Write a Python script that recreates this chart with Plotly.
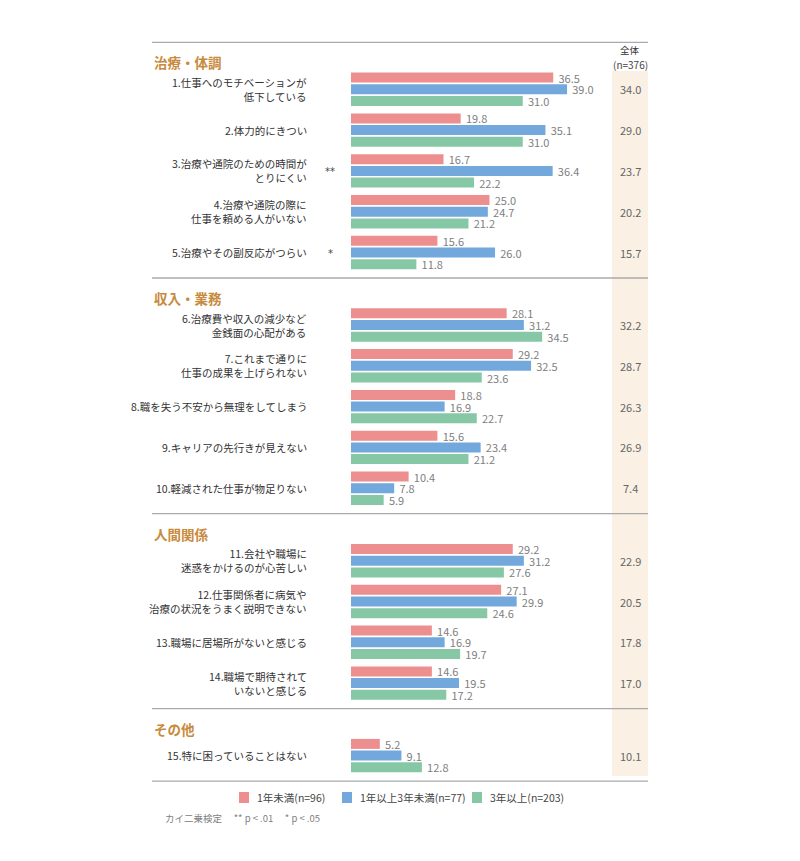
import plotly.graph_objects as go

# ---------------- data ----------------
sections = ["治療・体調", "収入・業務", "人間関係", "その他"]
section_sizes = [5, 5, 4, 1]
items = [
    "1.仕事へのモチベーションが<br>低下している",
    "2.体力的にきつい",
    "3.治療や通院のための時間が<br>とりにくい",
    "4.治療や通院の際に<br>仕事を頼める人がいない",
    "5.治療やその副反応がつらい",
    "6.治療費や収入の減少など<br>金銭面の心配がある",
    "7.これまで通りに<br>仕事の成果を上げられない",
    "8.職を失う不安から無理をしてしまう",
    "9.キャリアの先行きが見えない",
    "10.軽減された仕事が物足りない",
    "11.会社や職場に<br>迷惑をかけるのが心苦しい",
    "12.仕事関係者に病気や<br>治療の状況をうまく説明できない",
    "13.職場に居場所がないと感じる",
    "14.職場で期待されて<br>いないと感じる",
    "15.特に困っていることはない",
]
series_names = ["1年未満(n=96)", "1年以上3年未満(n=77)", "3年以上(n=203)"]
under1 = [36.5, 19.8, 16.7, 25.0, 15.6, 28.1, 29.2, 18.8, 15.6, 10.4, 29.2, 27.1, 14.6, 14.6, 5.2]
y1to3 = [39.0, 35.1, 36.4, 24.7, 26.0, 31.2, 32.5, 16.9, 23.4, 7.8, 31.2, 29.9, 16.9, 19.5, 9.1]
over3 = [31.0, 31.0, 22.2, 21.2, 11.8, 34.5, 23.6, 22.7, 21.2, 5.9, 27.6, 24.6, 19.7, 17.2, 12.8]
total = [34.0, 29.0, 23.7, 20.2, 15.7, 32.2, 28.7, 26.3, 26.9, 7.4, 22.9, 20.5, 17.8, 17.0, 10.1]
signif = ["", "", "**", "", "*", "", "", "", "", "", "", "", "", "", ""]
total_header = ["全体", "(n=376)"]
footnote = "カイ二乗検定　 ** p < .01　 * p < .05"

# ---------------- styles / layout ----------------
W, H = 800, 861
OFF = 8  # page body margin
FONT = "Noto Sans CJK JP"
colors = ["#EE8F8F", "#72A8DC", "#86C8A6"]
head_color = "#C88A3C"
beige = "#FAF0E4"
line_color = "#AAAAAA"

PX_PER_UNIT = 5.54
X0_PX = 351 - OFF

TOP_LINE = 42.3 - OFF
HEAD_OFF, FIRST_OFF, PITCH, AFTER = 20, 47, 40.8, 25.5
BAR_STEP, BAR_W = 11.7, 10

def px(x):
    return (x - OFF) / W

def py(y):
    return y - OFF

# compute layout rows (figure pixel units)
dividers = [TOP_LINE]
headers_y = []
item_y = []
cur = TOP_LINE
for n in section_sizes:
    headers_y.append(cur + HEAD_OFF)
    first = cur + FIRST_OFF
    for i in range(n):
        item_y.append(first + i * PITCH)
    cur = first + (n - 1) * PITCH + AFTER
    dividers.append(cur)

fig = go.Figure()
for k, (name, vals) in enumerate(zip(series_names, [under1, y1to3, over3])):
    fig.add_trace(go.Bar(
        name=name,
        orientation="h",
        x=vals,
        y=[c + (k - 1) * BAR_STEP for c in item_y],
        width=BAR_W,
        marker=dict(color=colors[k], line=dict(width=0)),
        text=[f"\u2009{v:.1f}" for v in vals],
        textposition="outside",
        textfont=dict(family=FONT, size=11, color="#808080"),
        constraintext="none",
        cliponaxis=False,
        hoverinfo="x+name",
        showlegend=False,
    ))

shapes = []
# beige total column
shapes.append(dict(type="rect", xref="paper", yref="y", x0=px(612), x1=px(648),
                   y0=py(71), y1=dividers[-1] - 5, fillcolor=beige, line=dict(width=0), layer="below"))
for d in dividers:
    shapes.append(dict(type="line", xref="paper", yref="y", x0=px(152), x1=px(648),
                       y0=d, y1=d, line=dict(color=line_color, width=1.3)))

ann = []
for s, yy in zip(sections, headers_y):
    ann.append(dict(text=f"<b>{s}</b>", x=px(152), y=yy, xref="paper", yref="y",
                    xanchor="left", yanchor="middle", showarrow=False,
                    font=dict(family=FONT, size=13.5, color=head_color)))
for lab, yy, t, sg in zip(items, item_y, total, signif):
    ann.append(dict(text=lab, x=px(309), y=yy, xref="paper", yref="y", align="right",
                    xanchor="right", yanchor="middle", showarrow=False,
                    font=dict(family=FONT, size=10.5, color="#333333")))
    ann.append(dict(text=f"{t:.1f}", x=px(630), y=yy, xref="paper", yref="y",
                    xanchor="center", yanchor="middle", showarrow=False,
                    font=dict(family=FONT, size=11, color="#666666")))
    if sg:
        ann.append(dict(text=sg, x=px(330), y=yy + 1, xref="paper", yref="y",
                        xanchor="center", yanchor="middle", showarrow=False,
                        font=dict(family="DejaVu Sans", size=10, color="#444444")))
ann.append(dict(text=total_header[0], x=px(630), y=py(50), xref="paper", yref="y",
                xanchor="center", yanchor="middle", showarrow=False,
                font=dict(family=FONT, size=9.5, color="#333333")))
ann.append(dict(text=total_header[1], x=px(630), y=py(64), xref="paper", yref="y",
                xanchor="center", yanchor="middle", showarrow=False,
                font=dict(family=FONT, size=10, color="#444444")))

# legend (manual)
leg_y = py(797.5)
leg_x = [239, 342, 472]
for k, name in enumerate(series_names):
    shapes.append(dict(type="rect", xref="paper", yref="y", x0=px(leg_x[k]), x1=px(leg_x[k] + 10),
                       y0=leg_y - 5.5, y1=leg_y + 5.5, fillcolor=colors[k], line=dict(width=0)))
    ann.append(dict(text=name, x=px(leg_x[k] + 16), y=leg_y, xref="paper", yref="y",
                    xanchor="left", yanchor="middle", showarrow=False,
                    font=dict(family=FONT, size=10.5, color="#444444")))
ann.append(dict(text=footnote, x=px(163), y=py(818), xref="paper", yref="y",
                xanchor="left", yanchor="middle", showarrow=False,
                font=dict(family=FONT, size=9.5, color="#808080")))

fig.update_layout(
    width=W, height=H,
    margin=dict(l=0, r=0, t=0, b=0),
    paper_bgcolor="white", plot_bgcolor="white",
    barmode="overlay",
    showlegend=False,
    shapes=shapes,
    annotations=ann,
    xaxis=dict(range=[-X0_PX / PX_PER_UNIT, (W - X0_PX) / PX_PER_UNIT], visible=False, fixedrange=True),
    yaxis=dict(range=[H, 0], visible=False, fixedrange=True),
    font=dict(family=FONT),
)

fig.write_html("out.html")
